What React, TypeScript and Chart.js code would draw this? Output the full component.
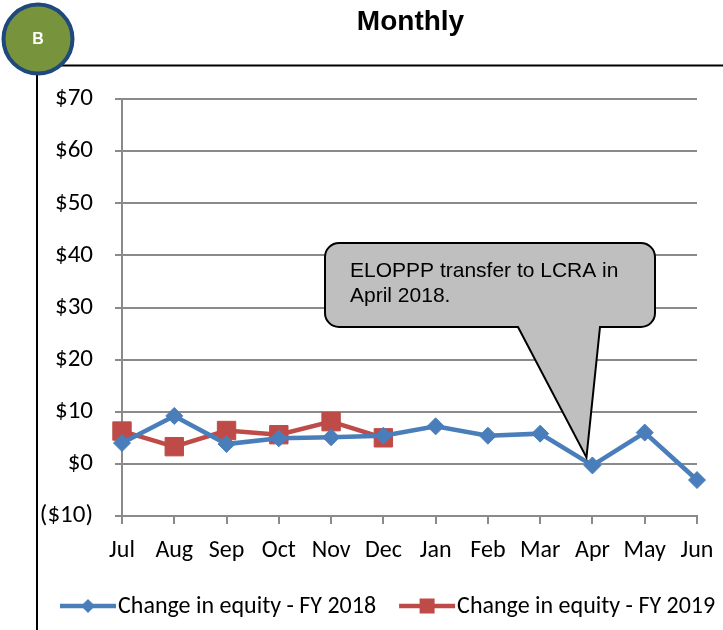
import React, { useEffect, useRef } from "react";
import { Chart, registerables } from "chart.js";

Chart.register(...registerables);

// ---- data ----
const MONTHS = ["Jul", "Aug", "Sep", "Oct", "Nov", "Dec", "Jan", "Feb", "Mar", "Apr", "May", "Jun"];
const FY2018 = [4.0, 9.2, 3.8, 4.9, 5.1, 5.4, 7.2, 5.4, 5.8, -0.3, 6.0, -3.1];
const FY2019 = [6.3, 3.3, 6.4, 5.6, 8.1, 5.0, null, null, null, null, null, null];
const SERIES_LABELS = ["Change in equity - FY 2018", "Change in equity - FY 2019"];
const Y_MIN = -10;
const Y_MAX = 70;
const Y_STEP = 10;
const TITLE = "Monthly";
const BADGE = "B";
const CALLOUT_LINES = ["ELOPPP transfer to LCRA in", "April 2018."];
const CALLOUT_INDEX = 9;

const BLUE = "#4A7EBB";
const RED = "#BE4B48";
const GRID = "#8A8A8A";
const TICK_FONT = "Carlito, Lato, sans-serif";

function fmtMoney(v: number) {
  return v < 0 ? `($${Math.abs(v)})` : `$${v}`;
}

function drawMarker(ctx: CanvasRenderingContext2D, kind: string, x: number, y: number, r: number, color: string) {
  ctx.fillStyle = color;
  ctx.beginPath();
  if (kind === "diamond") {
    ctx.moveTo(x - r, y);
    ctx.lineTo(x, y - r);
    ctx.lineTo(x + r, y);
    ctx.lineTo(x, y + r);
    ctx.closePath();
  } else {
    ctx.rect(x - r, y - r, 2 * r, 2 * r);
  }
  ctx.fill();
}

const decorPlugin = {
  id: "decor",
  beforeDraw(chart: any) {
    const ctx = chart.ctx as CanvasRenderingContext2D;
    ctx.save();
    ctx.fillStyle = "#ffffff";
    ctx.fillRect(0, 0, chart.width, chart.height);
    // frame lines
    ctx.strokeStyle = "#000";
    ctx.lineWidth = 2;
    ctx.beginPath();
    ctx.moveTo(37, 65.5);
    ctx.lineTo(chart.width, 65.5);
    ctx.moveTo(37, 65);
    ctx.lineTo(37, chart.height);
    ctx.stroke();
    // title
    const ca = chart.chartArea;
    ctx.fillStyle = "#000";
    ctx.font = "bold 28px 'Liberation Sans', Arial, sans-serif";
    ctx.textAlign = "center";
    ctx.textBaseline = "alphabetic";
    ctx.fillText(TITLE, (ca.left + ca.right) / 2 + 1, 30);
    ctx.restore();
  },
  afterDraw(chart: any) {
    const ctx = chart.ctx as CanvasRenderingContext2D;
    const xs = chart.scales.x;
    const ys = chart.scales.y;
    ctx.save();

    // callout
    const L = 325, R = 655, T = 243, B = 327, rad = 14;
    const b1 = 518, b2 = 600;
    const tipX = xs.getPixelForValue(CALLOUT_INDEX) - 6;
    const tipY = ys.getPixelForValue(FY2018[CALLOUT_INDEX] as number) - 8;
    ctx.beginPath();
    ctx.moveTo(L + rad, T);
    ctx.lineTo(R - rad, T);
    ctx.arcTo(R, T, R, T + rad, rad);
    ctx.lineTo(R, B - rad);
    ctx.arcTo(R, B, R - rad, B, rad);
    ctx.lineTo(b2, B);
    ctx.lineTo(tipX, tipY);
    ctx.lineTo(b1, B);
    ctx.lineTo(L + rad, B);
    ctx.arcTo(L, B, L, B - rad, rad);
    ctx.lineTo(L, T + rad);
    ctx.arcTo(L, T, L + rad, T, rad);
    ctx.closePath();
    ctx.fillStyle = "#BFBFBF";
    ctx.fill();
    ctx.strokeStyle = "#000";
    ctx.lineWidth = 2;
    ctx.lineJoin = "miter";
    ctx.stroke();
    ctx.fillStyle = "#000";
    ctx.font = "21px 'Liberation Sans', Arial, sans-serif";
    ctx.textAlign = "left";
    ctx.textBaseline = "alphabetic";
    CALLOUT_LINES.forEach((line, i) => ctx.fillText(line, 350, 277 + i * 25));

    // badge
    ctx.beginPath();
    ctx.arc(38, 39, 34.5, 0, Math.PI * 2);
    ctx.fillStyle = "#77933C";
    ctx.fill();
    ctx.lineWidth = 4;
    ctx.strokeStyle = "#1F497D";
    ctx.stroke();
    ctx.fillStyle = "#fff";
    ctx.font = "bold 16px 'Liberation Sans', Arial, sans-serif";
    ctx.textAlign = "center";
    ctx.textBaseline = "middle";
    ctx.fillText(BADGE, 38, 40);

    // legend
    const ly = 606;
    let lx = 60;
    ctx.font = `24px ${TICK_FONT}`;
    ctx.textAlign = "left";
    ctx.textBaseline = "middle";
    chart.data.datasets.forEach((ds: any, i: number) => {
      const color = ds.borderColor;
      ctx.strokeStyle = color;
      ctx.lineWidth = 4.5;
      ctx.beginPath();
      ctx.moveTo(lx, ly);
      ctx.lineTo(lx + 56, ly);
      ctx.stroke();
      drawMarker(ctx, i === 0 ? "diamond" : "square", lx + 28, ly, i === 0 ? 7 : 7.5, color);
      ctx.fillStyle = "#000";
      ctx.fillText(ds.label, lx + 58, ly + 1);
      lx = lx + 58 + ctx.measureText(ds.label).width + 23;
    });
    ctx.restore();
  },
};

export default function App() {
  const ref = useRef<HTMLCanvasElement | null>(null);
  useEffect(() => {
    if (!ref.current) return;
    const chart = new Chart(ref.current, {
      type: "line",
      data: {
        labels: MONTHS,
        datasets: [
          {
            label: SERIES_LABELS[0],
            data: FY2018,
            borderColor: BLUE,
            backgroundColor: BLUE,
            borderWidth: 4.5,
            pointStyle: "rectRot",
            pointRadius: 8.5,
            pointBorderWidth: 1,
            pointBackgroundColor: BLUE,
            pointBorderColor: BLUE,
            tension: 0,
          },
          {
            label: SERIES_LABELS[1],
            data: FY2019,
            borderColor: RED,
            backgroundColor: RED,
            borderWidth: 4.5,
            pointStyle: "rect",
            pointRadius: 13,
            pointBorderWidth: 1,
            pointBackgroundColor: RED,
            pointBorderColor: RED,
            tension: 0,
            spanGaps: false,
          },
        ],
      },
      options: {
        responsive: false,
        animation: false,
        events: [],
        layout: { padding: { top: 99, right: 26, bottom: 64, left: 40 } },
        plugins: {
          legend: { display: false },
          title: { display: false },
          tooltip: { enabled: false },
        },
        scales: {
          x: {
            offset: false,
            afterFit: (s: any) => {
              s.height = 50;
              s.paddingLeft = 0;
              s.paddingRight = 0;
            },
            grid: {
              drawOnChartArea: false,
              drawTicks: true,
              tickLength: 8,
              color: GRID,
              lineWidth: 2,
            },
            border: { display: true, color: GRID, width: 2 },
            ticks: {
              color: "#000",
              font: { family: TICK_FONT, size: 24 },
              padding: 13,
              maxRotation: 0,
              autoSkip: false,
            },
          },
          y: {
            min: Y_MIN,
            max: Y_MAX,
            afterFit: (s: any) => {
              s.width = 82;
            },
            grid: {
              color: GRID,
              lineWidth: 2,
              drawTicks: true,
              tickLength: 7,
            },
            border: { display: true, color: GRID, width: 2 },
            ticks: {
              stepSize: Y_STEP,
              color: "#000",
              font: { family: TICK_FONT, size: 25 },
              padding: 22,
              callback: (v: any) => fmtMoney(Number(v)),
            },
          },
        },
      },
      plugins: [decorPlugin],
    });
    return () => chart.destroy();
  }, []);

  return (
    <div style={{ position: "fixed", left: 0, top: 0, width: 723, height: 630 }}>
      <canvas ref={ref} width={723} height={630} style={{ display: "block" }} />
    </div>
  );
}
